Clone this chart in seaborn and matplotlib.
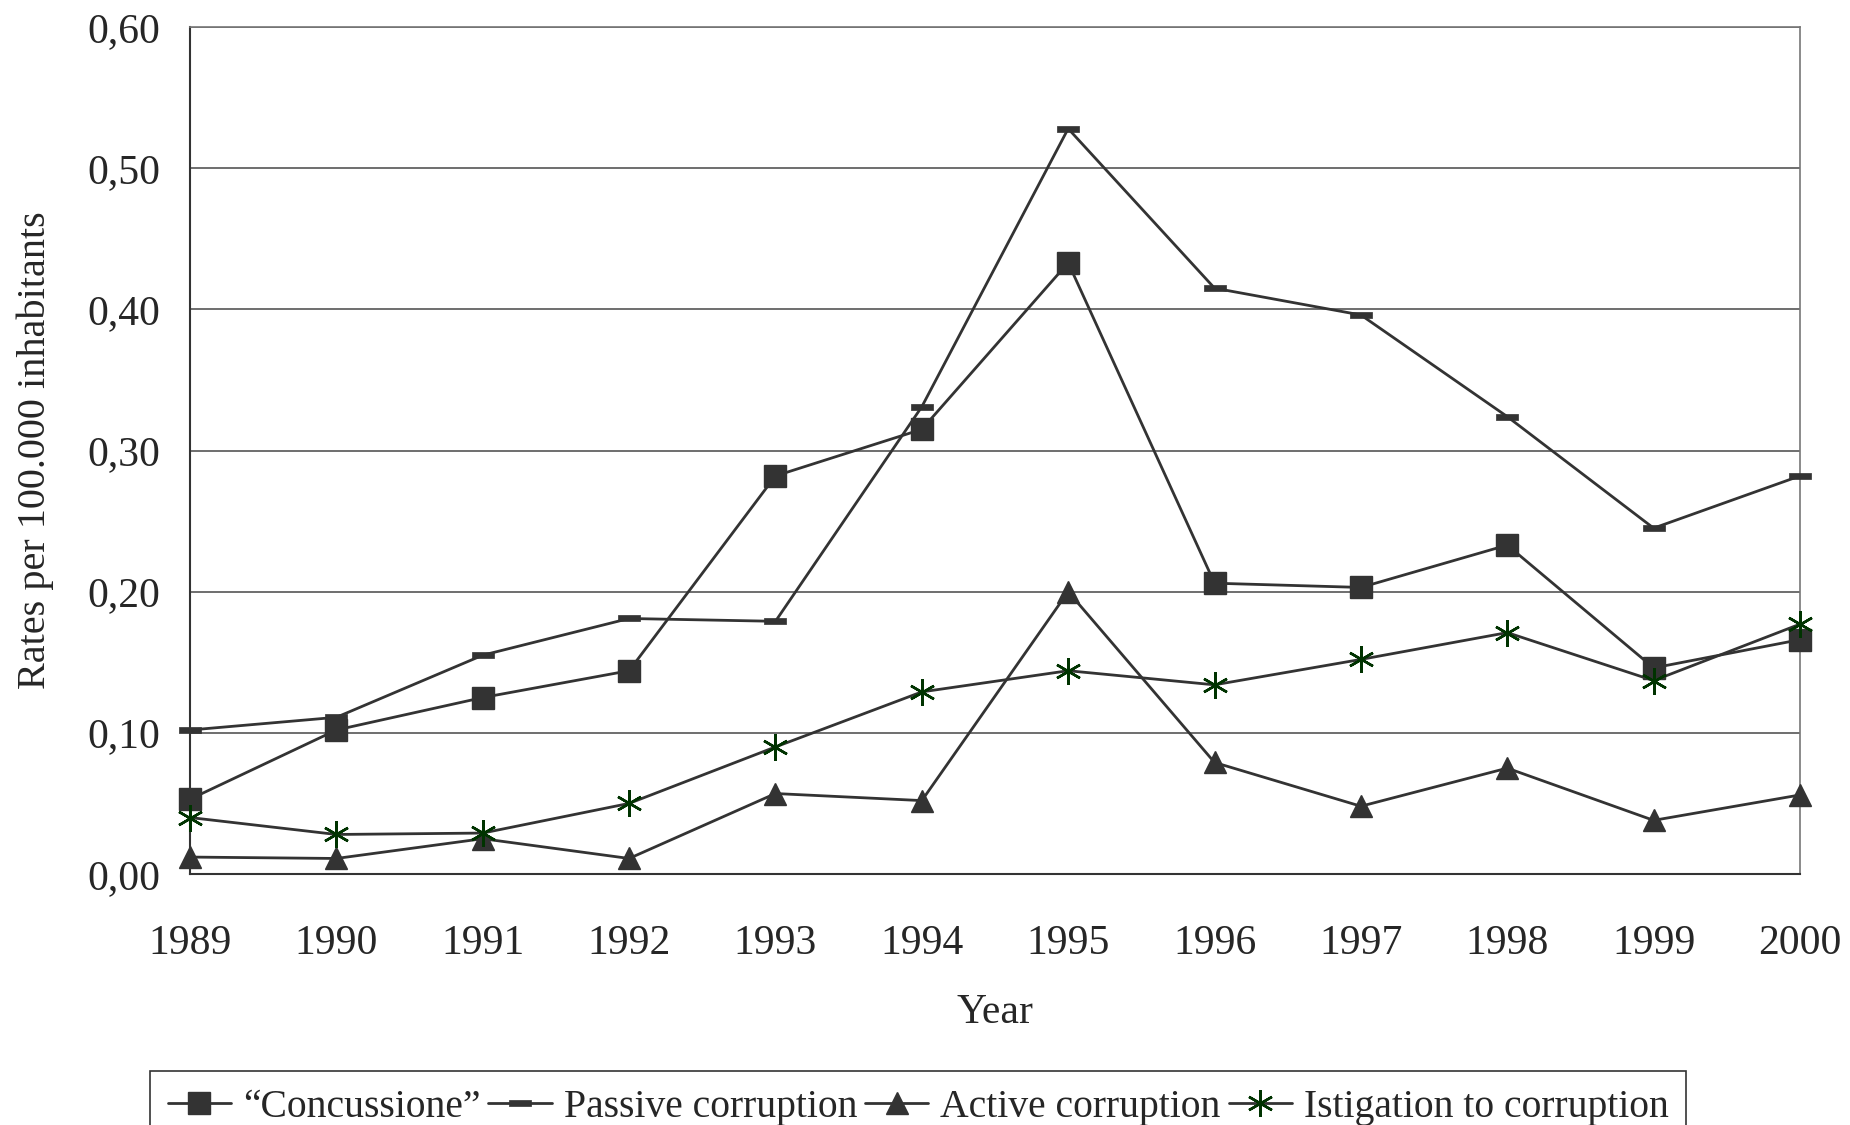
#! /usr/bin/env python
"""
Corruption offences in Italy, rates per 100.000 inhabitants, 1989-2000
"""

import pandas as pd
import seaborn as sns
import matplotlib.pyplot as plt

YEARS = [1989, 1990, 1991, 1992, 1993, 1994, 1995, 1996, 1997, 1998, 1999, 2000]

concussione = [0.053, 0.102, 0.125, 0.144, 0.282, 0.315, 0.433, 0.206, 0.203, 0.233, 0.146, 0.166]
passive_corruption = [0.102, 0.111, 0.155, 0.181, 0.179, 0.331, 0.528, 0.415, 0.396, 0.324, 0.245, 0.282]
active_corruption = [0.012, 0.011, 0.025, 0.011, 0.057, 0.052, 0.200, 0.079, 0.048, 0.075, 0.038, 0.056]
istigation = [0.040, 0.028, 0.029, 0.050, 0.090, 0.129, 0.144, 0.134, 0.152, 0.171, 0.137, 0.177]

SERIES_NAMES = ["\u201cConcussione\u201d", "Passive corruption", "Active corruption",
                "Istigation to corruption"]

Y_TICKS = [0.0, 0.1, 0.2, 0.3, 0.4, 0.5, 0.6]
Y_TICK_LABELS = ["0,00", "0,10", "0,20", "0,30", "0,40", "0,50", "0,60"]

LINE_COLOR = "#333333"
DASH = [(-1, -0.25), (1, -0.25), (1, 0.25), (-1, 0.25), (-1, -0.25)]


def build_frame() -> pd.DataFrame:
    df = pd.DataFrame({
        "Year": YEARS,
        SERIES_NAMES[0]: concussione,
        SERIES_NAMES[1]: passive_corruption,
        SERIES_NAMES[2]: active_corruption,
        SERIES_NAMES[3]: istigation,
    })
    return df.melt(id_vars="Year", var_name="Offence", value_name="Rate")


def run() -> None:
    df = build_frame()

    sns.set_style("white")
    plt.rcParams["font.family"] = ["Liberation Serif", "DejaVu Serif"]

    fig = plt.figure(figsize=(18.5, 11.25), dpi=100)
    ax = fig.add_axes([190 / 1850, 1 - 874 / 1125, 1610 / 1850, 847 / 1125])

    styles = {
        SERIES_NAMES[0]: dict(marker="s", markersize=16, markerfacecolor=LINE_COLOR,
                              markeredgecolor=LINE_COLOR, markeredgewidth=1),
        SERIES_NAMES[1]: dict(marker=DASH, markersize=16, markerfacecolor=LINE_COLOR,
                              markeredgecolor=LINE_COLOR, markeredgewidth=0.5),
        SERIES_NAMES[2]: dict(marker="^", markersize=16, markerfacecolor=LINE_COLOR,
                              markeredgecolor=LINE_COLOR, markeredgewidth=1),
        SERIES_NAMES[3]: dict(marker=(6, 2, 0), markersize=19, markerfacecolor="#003300",
                              markeredgecolor="#003300", markeredgewidth=1.8),
    }

    for name in SERIES_NAMES:
        sub = df[df["Offence"] == name]
        sns.lineplot(data=sub, x="Year", y="Rate", ax=ax, color=LINE_COLOR,
                     linewidth=2, label=name, clip_on=False, zorder=3,
                     **styles[name])

    ax.set_xlim(1989, 2000)
    ax.set_ylim(0, 0.6)
    ax.set_xticks(YEARS)
    ax.set_xticklabels([str(y) for y in YEARS])
    ax.set_yticks(Y_TICKS)
    ax.set_yticklabels(Y_TICK_LABELS)
    ax.tick_params(axis="both", labelsize=30, direction="out", length=9.5,
                   width=1, color=LINE_COLOR)
    ax.tick_params(axis="x", pad=27)
    ax.tick_params(axis="y", pad=12)

    ax.grid(axis="y", color="#555555", linewidth=1.2)
    ax.grid(axis="x", visible=False)
    for side in ["left", "bottom"]:
        ax.spines[side].set_color(LINE_COLOR)
        ax.spines[side].set_linewidth(1.5)
    for side in ["right", "top"]:
        ax.spines[side].set_color("#777777")
        ax.spines[side].set_linewidth(1.2)

    ax.set_xlabel("Year", fontsize=30, labelpad=22)
    ax.set_ylabel("Rates per 100.000 inhabitants", fontsize=29, labelpad=24)

    ax.get_legend().remove()
    handles, labels = ax.get_legend_handles_labels()
    leg = fig.legend(handles, labels, ncol=4, loc="upper left",
                     bbox_to_anchor=(150 / 1850, 1 - 1071 / 1125),
                     fontsize=28.5, frameon=True, fancybox=False,
                     edgecolor="black", handlelength=1.6, handletextpad=0.3,
                     columnspacing=0.2, borderpad=0.45, borderaxespad=0)
    leg.get_frame().set_linewidth(1.2)

    fig.savefig("out.png", dpi=100)


if __name__ == "__main__":
    run()
